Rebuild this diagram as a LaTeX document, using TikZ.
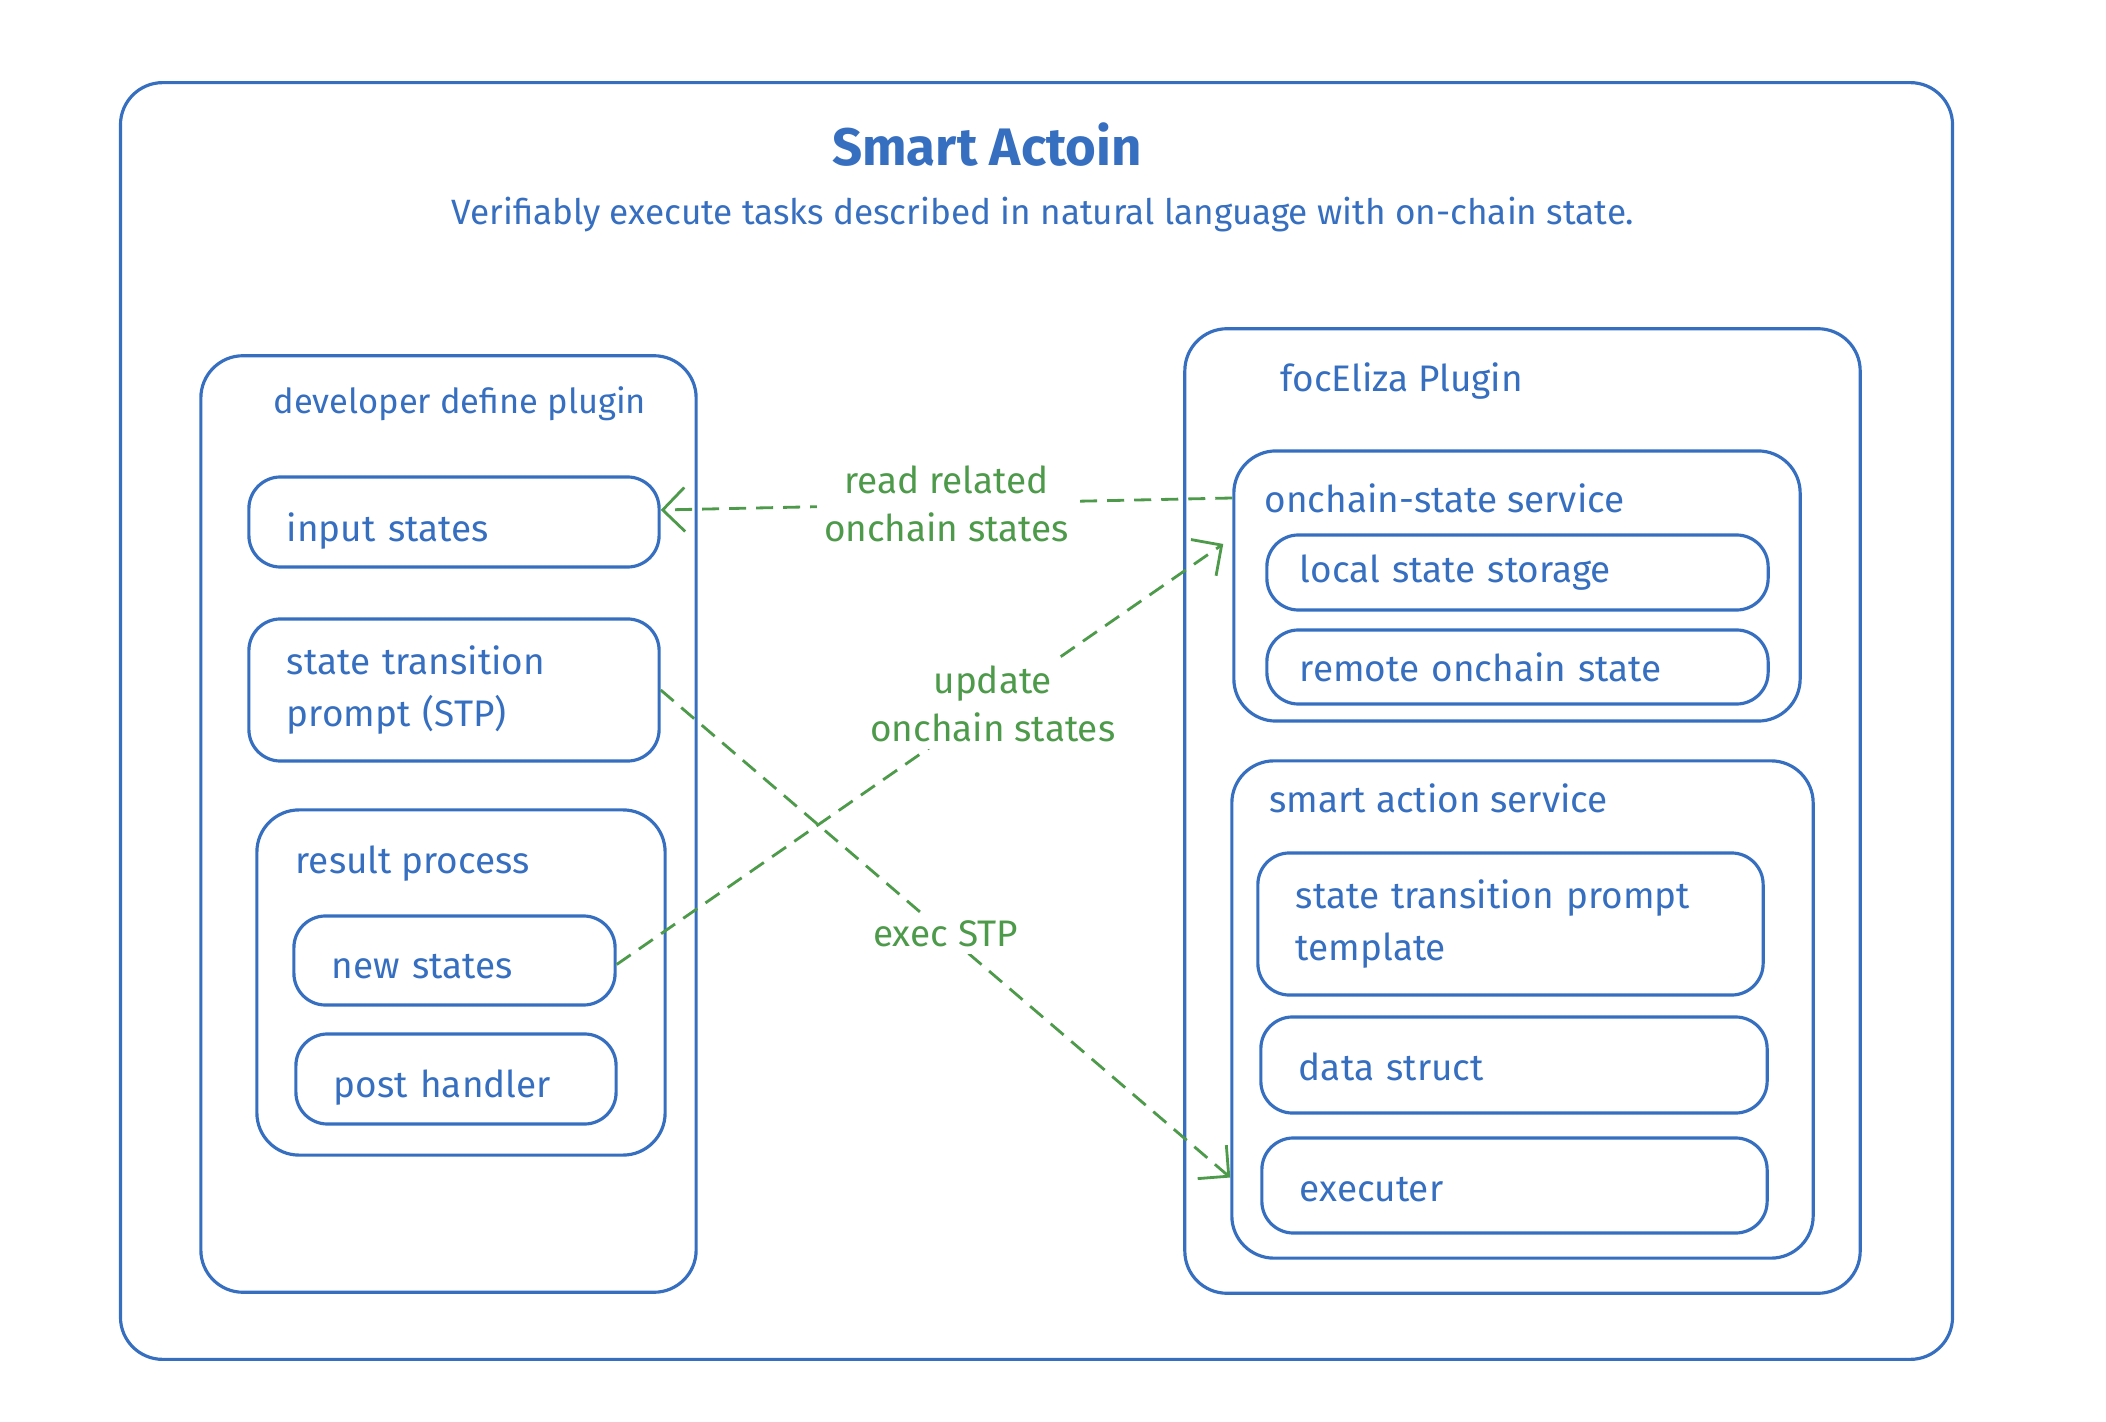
\documentclass[tikz,border=0pt]{standalone}
\usepackage{fontspec}
\setmainfont{Fira Sans}
\usetikzlibrary{arrows.meta}
\definecolor{azulboceto}{RGB}{54,110,192}
\definecolor{verdeflujo}{RGB}{77,154,74}

\begin{document}
\begin{tikzpicture}[x=0.01cm, y=-0.01cm,
    marco/.style={draw=azulboceto, line width=0.9pt, rounded corners=12pt},
    caja/.style={draw=azulboceto, line width=0.9pt, rounded corners=9pt,
      inner xsep=0.38cm, align=left, text=azulboceto,
      font=\fontsize{10.5}{15}\selectfont},
    abajo/.style={text height=#1, text depth=0.07cm},
    rotulo/.style={anchor=west, inner sep=0pt, text=azulboceto,
      font=\fontsize{10.5}{15}\selectfont},
    flujo/.style={draw=verdeflujo, line width=0.8pt,
      dash pattern=on 0.17cm off 0.1cm,
      -{Straight Barb[length=2.2mm,width=4.4mm]}},
    etiqueta/.style={fill=white, inner sep=2pt, text=verdeflujo,
      align=center, font=\fontsize{10.5}{13.5}\selectfont}]
      \useasboundingbox (0,0) rectangle (2106,1422);

      % Marco general
      \node[marco, minimum width=18.31cm, minimum height=12.76cm] (marco) at (1036.5,721) {};
      \node[text=azulboceto, font=\fontsize{15}{18}\selectfont\bfseries] (titulo) at (987,145) {Smart Actoin};
      \node[text=azulboceto, font=\fontsize{10}{12}\selectfont] (subtitulo) at (1043,215)
        {Verifiably execute tasks described in natural language with on-chain state.};

      % Plugin del desarrollador
      \node[marco, minimum width=4.95cm, minimum height=9.36cm] (devplugin) at (448.5,824) {};
      \node[rotulo, font=\fontsize{9.8}{15}\selectfont] (devtitulo) at (273,404) {developer define plugin};
      \node[caja, abajo=0.45cm, text width=3.34cm, minimum height=0.90cm] (inputs) at (454,522) {input states};
      \node[caja, text width=3.34cm, minimum height=1.42cm] (stp) at (454,690) {state transition\\prompt (STP)};
      \node[marco, minimum width=4.08cm, minimum height=3.45cm] (resultado) at (461,982.5) {};
      \node[rotulo] (restitulo) at (295,864) {result process};
      \node[caja, abajo=0.42cm, text width=2.45cm, minimum height=0.89cm] (newstates) at (454.5,960.5) {new states};
      \node[caja, abajo=0.44cm, text width=2.44cm, minimum height=0.90cm] (posthandler) at (456,1079) {post handler};

      % Plugin focEliza
      \node[marco, minimum width=6.75cm, minimum height=9.64cm] (focplugin) at (1522.5,811) {};
      \node[rotulo] (foctitulo) at (1280,381) {focEliza Plugin};
      \node[marco, minimum width=5.66cm, minimum height=2.70cm] (onchainsvc) at (1517,586) {};
      \node[rotulo] (onchaintitulo) at (1264,498) {onchain-state service};
      \node[caja, text width=4.35cm, minimum height=0.75cm, inner xsep=0.33cm] (localstate) at (1517.5,572.5) {local state storage};
      \node[caja, text width=4.35cm, minimum height=0.74cm, inner xsep=0.33cm] (remotestate) at (1517.5,667) {remote onchain state};
      \node[marco, minimum width=5.81cm, minimum height=4.97cm] (smartsvc) at (1522.5,1009.5) {};
      \node[rotulo] (smarttitulo) at (1269,798) {smart action service};
      \node[caja, text width=4.29cm, minimum height=1.42cm] (plantilla) at (1510.5,924) {state transition prompt\\template};
      \node[caja, abajo=0.37cm, text width=4.30cm, minimum height=0.96cm] (datastruct) at (1514,1065) {data struct};
      \node[caja, abajo=0.38cm, text width=4.29cm, minimum height=0.95cm] (executer) at (1514.5,1185.5) {executer};

      % Flujos
      \draw[flujo] (onchainsvc.west |- onchaintitulo.west)
        -- node[etiqueta] (lblread) {read related\\onchain states} ([yshift=0.12cm]inputs.east);
      \draw[flujo] ([yshift=-0.04cm]newstates.east)
        -- node[etiqueta, pos=0.62] (lblupdate) {update\\onchain states} ([xshift=-0.09cm,yshift=0.42cm]onchainsvc.west);
      \draw[flujo] (stp.east)
        -- node[etiqueta] (lblexec) {exec STP} ([yshift=0.08cm]smartsvc.west |- executer.west);
    \end{tikzpicture}
\end{document}
